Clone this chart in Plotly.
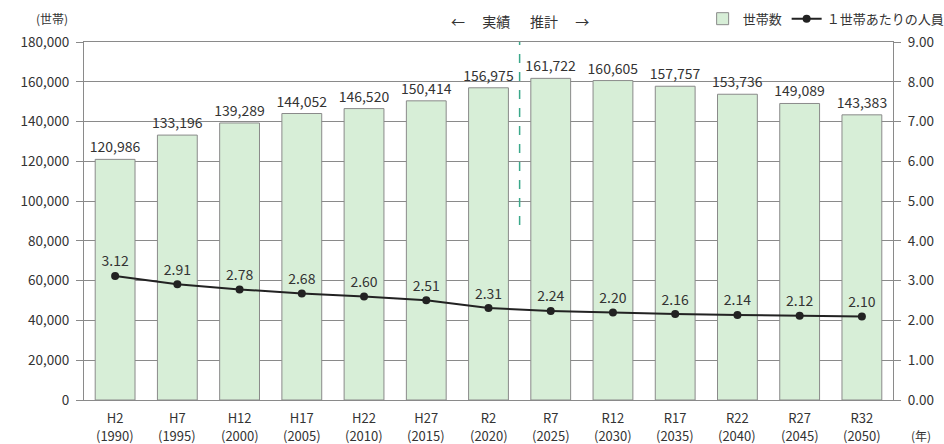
import plotly.graph_objects as go

eras = ["H2", "H7", "H12", "H17", "H22", "H27", "R2", "R7", "R12", "R17", "R22", "R27", "R32"]
years = ["(1990)", "(1995)", "(2000)", "(2005)", "(2010)", "(2015)", "(2020)",
         "(2025)", "(2030)", "(2035)", "(2040)", "(2045)", "(2050)"]
households = [120986, 133196, 139289, 144052, 146520, 150414, 156975,
              161722, 160605, 157757, 153736, 149089, 143383]
persons = [3.12, 2.91, 2.78, 2.68, 2.60, 2.51, 2.31, 2.24, 2.20, 2.16, 2.14, 2.12, 2.10]

left_ticks = list(range(0, 180001, 20000))
right_ticks = [i * 1.0 for i in range(10)]

FONT = "Noto Sans CJK JP"
TXT = "#333333"
GRID = "#8a8a8a"

fig = go.Figure()
fig.add_trace(go.Bar(
    x=eras, y=households, name="世帯数",
    marker=dict(color="#d7eed7", line=dict(color="#8a8a8a", width=1)),
    text=[f"{v:,}" for v in households], textposition="outside",
    constraintext="none",
    textfont=dict(size=14, color=TXT, family=FONT), cliponaxis=False,
))
fig.add_trace(go.Scatter(
    x=eras, y=persons, name="１世帯あたりの人員", yaxis="y2",
    mode="lines+markers+text",
    line=dict(color="#222222", width=2),
    marker=dict(color="#222222", size=8),
    text=[f"{v:.2f}" for v in persons], textposition="top center",
    textfont=dict(size=14, color=TXT, family=FONT), cliponaxis=False,
))

fig.update_layout(
    width=944, height=444,
    margin=dict(l=84, r=51, t=42, b=44, autoexpand=False),
    paper_bgcolor="white", plot_bgcolor="white",
    font=dict(family=FONT, size=13, color=TXT),
    bargap=0.36,
    showlegend=True,
    legend=dict(orientation="h", x=1.07, xanchor="right", y=1.065, yanchor="middle",
                font=dict(size=13, color=TXT), bgcolor="rgba(0,0,0,0)",
                tracegroupgap=0),
    xaxis=dict(type="category", showgrid=False, ticks="", showline=True, linecolor=GRID,
               mirror=True, tickfont=dict(size=13, color=TXT), range=[-0.5, 12.5],
               ticklabelstandoff=6),
    yaxis=dict(range=[0, 180000], tickvals=left_ticks,
               ticktext=[f"{v:,}" for v in left_ticks],
               showgrid=True, gridcolor=GRID, gridwidth=1,
               ticks="outside", ticklen=7, tickcolor=GRID,
               showline=True, linecolor=GRID, zeroline=False,
               tickfont=dict(size=13.5, color=TXT), ticklabelstandoff=4),
    yaxis2=dict(range=[0, 9], tickvals=right_ticks,
                ticktext=[f"{v:.2f}" for v in right_ticks],
                overlaying="y", side="right", showgrid=False,
                ticks="outside", ticklen=7, tickcolor=GRID,
                showline=True, linecolor=GRID, zeroline=False,
                tickfont=dict(size=13.5, color=TXT), ticklabelstandoff=4),
)

for era, yr in zip(eras, years):
    fig.add_annotation(text=yr, xref="x", yref="paper", x=era, y=-0.098,
                       xanchor="center", yanchor="middle", showarrow=False,
                       font=dict(size=13, color=TXT))

fig.add_shape(type="line", xref="x", yref="y", x0=6.5, x1=6.5, y0=88000, y1=192000,
              line=dict(color="#3aa88a", width=1.5, dash="dash"))

fig.add_annotation(text="←　 実績", xref="x", yref="paper", x=6.37, y=1.06, xanchor="right",
                   yanchor="middle", showarrow=False, font=dict(size=14, color=TXT))
fig.add_annotation(text="推計　 →", xref="x", yref="paper", x=6.63, y=1.06, xanchor="left",
                   yanchor="middle", showarrow=False, font=dict(size=14, color=TXT))
fig.add_annotation(text="(世帯)", xref="paper", yref="paper", x=-0.04, y=1.065,
                   xanchor="center", yanchor="middle", showarrow=False, font=dict(size=12, color=TXT))
fig.add_annotation(text="(年)", xref="paper", yref="paper", x=1.035, y=-0.098,
                   xanchor="center", yanchor="middle", showarrow=False, font=dict(size=12, color=TXT))

fig.write_html("out.html", config={"displayModeBar": False},
               post_script="document.body.style.margin='0';document.body.style.padding='0';")
